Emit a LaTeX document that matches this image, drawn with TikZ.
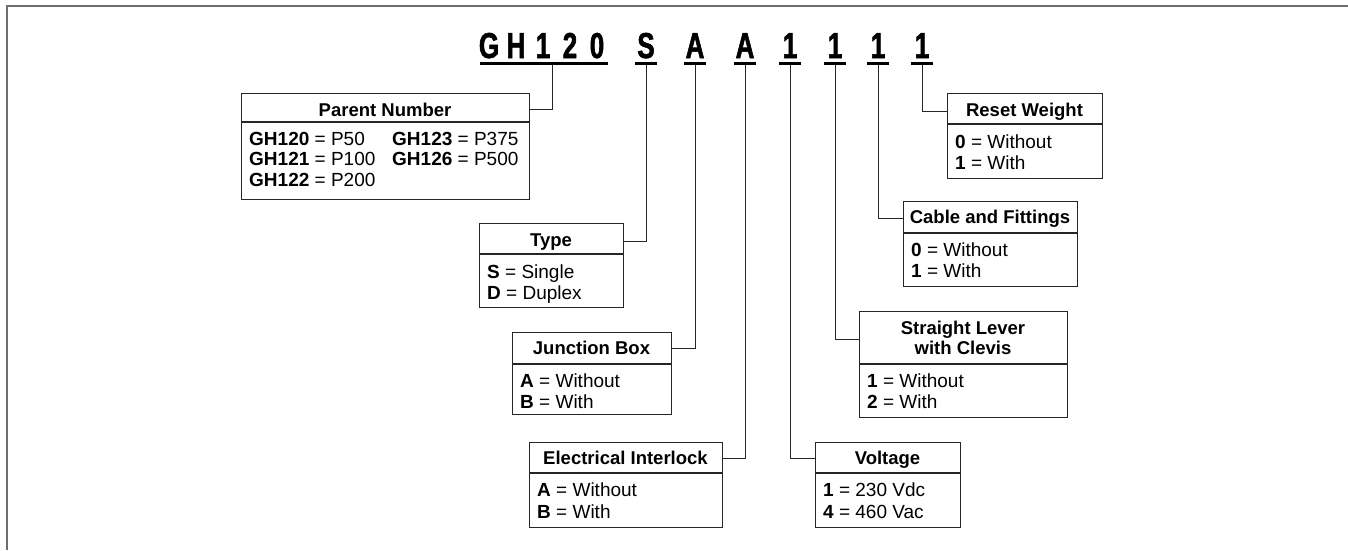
\documentclass[tikz,border=0pt]{standalone}
\usepackage{fontspec}
\setmainfont{Liberation Sans}
\newfontfamily\titlefont[FakeStretch=0.72,BoldFeatures={FakeBold=1.6}]{Liberation Sans}
\usetikzlibrary{calc}
\definecolor{framegray}{HTML}{6E6E6E}
\definecolor{ink}{HTML}{262626}
\begin{document}
\begin{tikzpicture}[x=1pt,y=-1pt,
  box/.style={draw=ink, line width=1.2pt, inner sep=0pt, anchor=north west},
  divl/.style={draw=ink, line width=1.2pt},
  hdr/.style={font=\fontsize{18.5}{21}\selectfont\bfseries, inner sep=0pt, anchor=base},
  bod/.style={font=\fontsize{19}{21}\selectfont, inner sep=0pt, anchor=base west},
  conn/.style={draw=ink, line width=1pt},
  uline/.style={draw=black, line width=3pt},
  ttl/.style={font=\fontsize{36}{40}\titlefont\bfseries, inner sep=0pt, anchor=base}]
\useasboundingbox (0,0) rectangle (1348,550);
\draw[framegray, line width=2.2pt] (1348,6) -- (7,6) -- (7,550);

% ---------- title ----------
\node[ttl] (cG) at (489,58) {G};
\node[ttl] (cH) at (516,58) {H};
\node[ttl] (c1) at (543,58) {1};
\node[ttl] (c2) at (570,58) {2};
\node[ttl] (c0) at (597,58) {0};
\node[ttl] (cS) at (646,58) {S};
\node[ttl] (cA1) at (695,58) {A};
\node[ttl] (cA2) at (745,58) {A};
\node[ttl] (cO1) at (790,58) {1};
\node[ttl] (cO2) at (835,58) {1};
\node[ttl] (cO3) at (878,58) {1};
\node[ttl] (cO4) at (922,58) {1};

\draw[uline] ($(cG.base)+(-9,5)$) -- ($(c0.base)+(11,5)$);
\foreach \n in {cS,cA1,cA2,cO1,cO2,cO3,cO4}
  \draw[uline] ($(\n.base)+(-11,5)$) -- ($(\n.base)+(11,5)$);

\coordinate (tpn) at ($(c1.base)+(9,6.5)$);
\coordinate (tty) at ($(cS.base)+(0,6.5)$);
\coordinate (tjb) at ($(cA1.base)+(0,6.5)$);
\coordinate (tei) at ($(cA2.base)+(0,6.5)$);
\coordinate (tvo) at ($(cO1.base)+(0,6.5)$);
\coordinate (tsl) at ($(cO2.base)+(0,6.5)$);
\coordinate (tcf) at ($(cO3.base)+(0,6.5)$);
\coordinate (trw) at ($(cO4.base)+(0,6.5)$);

% ---------- Parent Number ----------
\node[box, minimum width=288pt, minimum height=106pt] (pn) at (241,93) {};
\draw[divl] ($(pn.north west)+(0,29)$) -- ($(pn.north east)+(0,29)$);
\node[hdr] (pnh) at (385,116) {Parent Number};
\node[bod] (pn1) at (249,145) {\textbf{GH120} = P50};
\node[bod] (pn2) at (392,145) {\textbf{GH123} = P375};
\node[bod] (pn3) at (249,165.5) {\textbf{GH121} = P100};
\node[bod] (pn4) at (392,165.5) {\textbf{GH126} = P500};
\node[bod] (pn5) at (249,186) {\textbf{GH122} = P200};
\draw[conn] (tpn) |- ($(pn.north east)+(0,16)$);

% ---------- Type ----------
\node[box, minimum width=144pt, minimum height=84pt] (ty) at (479,223) {};
\draw[divl] ($(ty.north west)+(0,31)$) -- ($(ty.north east)+(0,31)$);
\node[hdr] (tyh) at (551,246) {Type};
\node[bod] (ty1) at (487,278) {\textbf{S} = Single};
\node[bod] (ty2) at (487,299) {\textbf{D} = Duplex};
\draw[conn] (tty) |- ($(ty.north east)+(0,18)$);

% ---------- Junction Box ----------
\node[box, minimum width=159pt, minimum height=82pt] (jb) at (512,332) {};
\draw[divl] ($(jb.north west)+(0,32)$) -- ($(jb.north east)+(0,32)$);
\node[hdr] (jbh) at (591.5,354) {Junction Box};
\node[bod] (jb1) at (520,387) {\textbf{A} = Without};
\node[bod] (jb2) at (520,408) {\textbf{B} = With};
\draw[conn] (tjb) |- ($(jb.north east)+(0,16)$);

% ---------- Electrical Interlock ----------
\node[box, minimum width=193pt, minimum height=85pt] (ei) at (529,442) {};
\draw[divl] ($(ei.north west)+(0,31)$) -- ($(ei.north east)+(0,31)$);
\node[hdr] (eih) at (625.5,464) {Electrical Interlock};
\node[bod] (ei1) at (537,496) {\textbf{A} = Without};
\node[bod] (ei2) at (537,518) {\textbf{B} = With};
\draw[conn] (tei) |- ($(ei.north east)+(0,16)$);

% ---------- Voltage ----------
\node[box, minimum width=145pt, minimum height=85pt] (vo) at (815,442) {};
\draw[divl] ($(vo.north west)+(0,31)$) -- ($(vo.north east)+(0,31)$);
\node[hdr] (voh) at (887.5,464) {Voltage};
\node[bod] (vo1) at (823,496) {\textbf{1} = 230 Vdc};
\node[bod] (vo2) at (823,518) {\textbf{4} = 460 Vac};
\draw[conn] (tvo) |- ($(vo.north west)+(0,16)$);

% ---------- Straight Lever with Clevis ----------
\node[box, minimum width=208pt, minimum height=106pt] (sl) at (859,311) {};
\draw[divl] ($(sl.north west)+(0,53)$) -- ($(sl.north east)+(0,53)$);
\node[hdr] (slh1) at (963,334) {Straight Lever};
\node[hdr] (slh2) at (963,354) {with Clevis};
\node[bod] (sl1) at (867,387) {\textbf{1} = Without};
\node[bod] (sl2) at (867,408) {\textbf{2} = With};
\draw[conn] (tsl) |- ($(sl.north west)+(0,28)$);

% ---------- Cable and Fittings ----------
\node[box, minimum width=174pt, minimum height=85pt] (cf) at (903,201) {};
\draw[divl] ($(cf.north west)+(0,32)$) -- ($(cf.north east)+(0,32)$);
\node[hdr] (cfh) at (990,223) {Cable and Fittings};
\node[bod] (cf1) at (911,256) {\textbf{0} = Without};
\node[bod] (cf2) at (911,277) {\textbf{1} = With};
\draw[conn] (tcf) |- ($(cf.north west)+(0,17)$);

% ---------- Reset Weight ----------
\node[box, minimum width=155pt, minimum height=85pt] (rw) at (947,93) {};
\draw[divl] ($(rw.north west)+(0,31)$) -- ($(rw.north east)+(0,31)$);
\node[hdr] (rwh) at (1024.5,116) {Reset Weight};
\node[bod] (rw1) at (955,148) {\textbf{0} = Without};
\node[bod] (rw2) at (955,169) {\textbf{1} = With};
\draw[conn] (trw) |- ($(rw.north west)+(0,18)$);
\end{tikzpicture}
\end{document}
